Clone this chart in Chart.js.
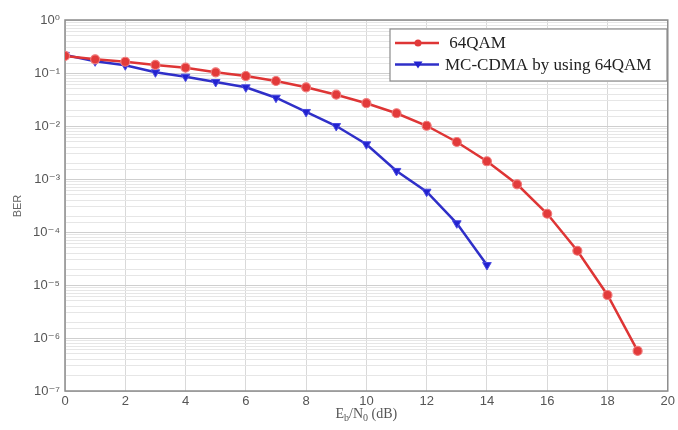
<!DOCTYPE html>
<html>
<head>
<meta charset="utf-8">
<script src="https://cdn.jsdelivr.net/npm/chart.js@4.4.1/dist/chart.umd.min.js"></script>
<style>
  html, body { margin: 0; padding: 0; background: #ffffff; }
  #wrap { width: 678px; height: 430px; position: relative; }
</style>
</head>
<body>
<div id="wrap"><canvas id="c" width="678" height="430"></canvas></div>
<script>
// ---- data ----
const ebn0 = [0, 1, 2, 3, 4, 5, 6, 7, 8, 9, 10, 11, 12, 13, 14, 15, 16, 17, 18, 19];
const ber64qam = [0.21, 0.181, 0.163, 0.142, 0.126, 0.103, 0.0877, 0.0706, 0.0537, 0.039,
                  0.0269, 0.0174, 0.0101, 0.00499, 0.00216, 0.000794, 0.000221, 4.43e-5, 6.47e-6, 5.7e-7];
const ebn0Mc = [0, 1, 2, 3, 4, 5, 6, 7, 8, 9, 10, 11, 12, 13, 14];
const berMcCdma = [0.22, 0.166, 0.14, 0.103, 0.0851, 0.0676, 0.0537, 0.0342, 0.0184, 0.01,
                   0.00452, 0.00142, 0.000576, 0.000146, 2.38e-5];
const seriesLabels = [' 64QAM', 'MC-CDMA by using 64QAM'];
const yTickLabels = {0: '10\u2070', '-1': '10\u207B\u00B9', '-2': '10\u207B\u00B2', '-3': '10\u207B\u00B3',
                     '-4': '10\u207B\u2074', '-5': '10\u207B\u2075', '-6': '10\u207B\u2076', '-7': '10\u207B\u2077'};
const xTitle = [['E', false], ['b', true], ['/N', false], ['0', true], [' (dB)', false]];
const yTitle = 'BER';

const toXY = (xs, ys) => xs.map((x, i) => ({x: x, y: ys[i]}));

function isMajor(v) {
  const l = Math.log10(v);
  return Math.abs(l - Math.round(l)) < 1e-6;
}

const framePlugin = {
  id: 'frame',
  beforeDatasetsDraw(chart) {
    const a = chart.chartArea, ctx = chart.ctx;
    ctx.save();
    ctx.strokeStyle = '#8c8c8c';
    ctx.lineWidth = 1.5;
    ctx.strokeRect(a.left, a.top, a.right - a.left, a.bottom - a.top);
    ctx.restore();
  },
  afterDraw(chart) {
    const a = chart.chartArea, ctx = chart.ctx;
    ctx.save();
    // y title
    ctx.fillStyle = '#666';
    ctx.font = '11px "Liberation Sans", Arial, sans-serif';
    ctx.translate(18, 206);
    ctx.rotate(-Math.PI / 2);
    ctx.textAlign = 'center';
    ctx.textBaseline = 'middle';
    ctx.fillText(yTitle, 0, 0);
    ctx.restore();

    // x title with subscripts
    ctx.save();
    ctx.fillStyle = '#555';
    const big = '14px "Liberation Serif", "Times New Roman", serif';
    const small = '10px "Liberation Serif", "Times New Roman", serif';
    let total = 0;
    xTitle.forEach(([t, sub]) => { ctx.font = sub ? small : big; total += ctx.measureText(t).width; });
    let x = (a.left + a.right) / 2 - total / 2;
    const yb = 418;
    ctx.textBaseline = 'alphabetic';
    xTitle.forEach(([t, sub]) => {
      ctx.font = sub ? small : big;
      ctx.fillText(t, x, sub ? yb + 3 : yb);
      x += ctx.measureText(t).width;
    });
    ctx.restore();

    // legend
    ctx.save();
    const bx = 390, by = 29, bw = 277, bh = 52;
    ctx.fillStyle = '#ffffff';
    ctx.fillRect(bx, by, bw, bh);
    ctx.strokeStyle = '#8c8c8c';
    ctx.lineWidth = 1.2;
    ctx.strokeRect(bx, by, bw, bh);
    ctx.font = '17px "Liberation Serif", "Times New Roman", serif';
    ctx.textBaseline = 'middle';
    chart.data.datasets.forEach((ds, i) => {
      const cy = by + 14 + i * 21.5;
      ctx.strokeStyle = ds.borderColor;
      ctx.lineWidth = 2.5;
      ctx.beginPath(); ctx.moveTo(bx + 5, cy); ctx.lineTo(bx + 49, cy); ctx.stroke();
      const mx = bx + 28;
      ctx.fillStyle = ds.pointBackgroundColor;
      ctx.beginPath();
      if (ds.pointStyle === 'circle') {
        ctx.arc(mx, cy, 3.5, 0, Math.PI * 2);
      } else {
        ctx.moveTo(mx - 4.5, cy - 3); ctx.lineTo(mx + 4.5, cy - 3); ctx.lineTo(mx, cy + 4);
        ctx.closePath();
      }
      ctx.fill();
      ctx.fillStyle = '#222';
      ctx.fillText(ds.label, bx + 55, cy + 1);
    });
    ctx.restore();
  }
};

new Chart(document.getElementById('c'), {
  type: 'line',
  data: {
    datasets: [
      {
        label: seriesLabels[0],
        data: toXY(ebn0, ber64qam),
        borderColor: '#de3535',
        backgroundColor: '#de3535',
        pointBackgroundColor: '#e23a3a',
        pointBorderColor: '#f07a7a',
        pointBorderWidth: 1.2,
        pointStyle: 'circle',
        pointRadius: 4.5,
        borderWidth: 2.5,
        tension: 0
      },
      {
        label: seriesLabels[1],
        data: toXY(ebn0Mc, berMcCdma),
        borderColor: '#2f2fc8',
        backgroundColor: '#2f2fc8',
        pointBackgroundColor: '#2222d0',
        pointBorderColor: '#4a4ae0',
        pointBorderWidth: 1,
        pointStyle: 'triangle',
        rotation: 180,
        pointRadius: 5,
        borderWidth: 2.5,
        tension: 0
      }
    ]
  },
  options: {
    responsive: false,
    animation: false,
    layout: { padding: { top: 20, right: 8, left: 0, bottom: 0 } },
    plugins: { legend: { display: false }, tooltip: { enabled: false } },
    scales: {
      x: {
        type: 'linear',
        min: 0, max: 20,
        afterFit(s) { s.height = 39; },
        ticks: { stepSize: 2, color: '#555', padding: 3,
                 font: { family: '"Liberation Sans", Arial, sans-serif', size: 13 } },
        grid: { color: '#d9d9d9', lineWidth: 1, tickLength: 0 },
        border: { display: false }
      },
      y: {
        type: 'logarithmic',
        min: 1e-7, max: 1,
        afterFit(s) { s.width = 65; },
        ticks: {
          autoSkip: false,
          color: '#555',
          padding: 5,
          font: { family: '"Liberation Sans", "DejaVu Sans", Arial, sans-serif', size: 13 },
          callback(v) {
            if (!isMajor(v)) return '';
            return yTickLabels[String(Math.round(Math.log10(v)))];
          }
        },
        grid: {
          tickLength: 0,
          color(ctx) {
            const v = ctx.tick && ctx.tick.value;
            return v && isMajor(v) ? '#cfcfcf' : '#e6e6e6';
          },
          lineWidth: 1
        },
        border: { display: false }
      }
    }
  },
  plugins: [framePlugin]
});
</script>
</body>
</html>
